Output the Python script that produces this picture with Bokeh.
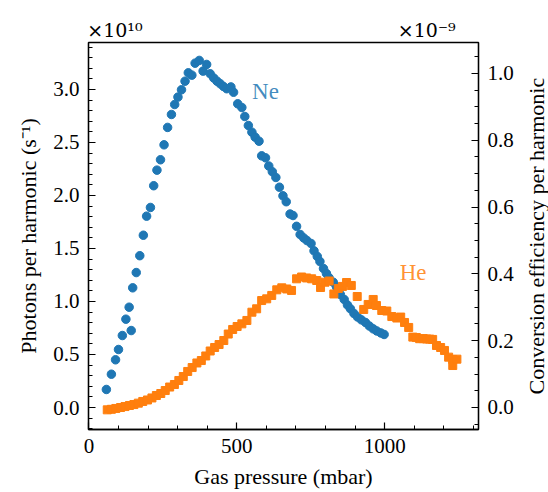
import math
from bokeh.plotting import figure
from bokeh.models import Range1d, LinearAxis, FixedTicker, Label, PrintfTickFormatter
from bokeh.embed import file_html
from bokeh.resources import INLINE

# Ne: gas pressure (mbar) vs photons per harmonic (x1e10 s^-1)
ne_p = [59, 76, 90, 100, 113, 125, 136, 143, 148, 160, 172, 184, 195, 208, 219, 230, 242, 254, 266, 279,
        290, 301, 313, 325, 336, 348, 359, 373, 386, 398, 410, 422, 433, 444, 455, 466, 480, 489, 503, 517,
        527, 539, 551, 562, 575, 584, 597, 608, 620, 632, 644, 656, 667, 680, 690, 702, 714, 726, 737, 751,
        761, 772, 781, 793, 803, 812, 826, 837, 850, 863, 874, 884, 896, 908, 921, 935, 948, 961, 973, 987, 998]
ne_y = [0.170, 0.314, 0.450, 0.547, 0.679, 0.833, 0.946, 0.726, 1.129, 1.273, 1.432, 1.625, 1.805, 1.887, 2.092,
        2.239, 2.337, 2.478, 2.642, 2.764, 2.858, 2.928, 2.997, 3.078, 3.157, 3.135, 3.248, 3.274, 3.173, 3.236,
        3.148, 3.108, 3.078, 3.054, 3.028, 3.007, 3.024, 2.974, 2.865, 2.830, 2.745, 2.660, 2.597, 2.550, 2.512,
        2.374, 2.355, 2.278, 2.224, 2.170, 2.078, 1.997, 1.941, 1.825, 1.811, 1.709, 1.632, 1.600, 1.575, 1.547,
        1.478, 1.425, 1.377, 1.311, 1.264, 1.223, 1.182, 1.137, 1.066, 1.019, 0.967, 0.931, 0.887, 0.854, 0.827,
        0.802, 0.769, 0.742, 0.722, 0.703, 0.689]

# He
he_p = [62, 76, 91, 107, 122, 137, 152, 167, 182, 198, 213, 228, 243, 258, 273, 289, 304, 319, 334, 349,
        365, 380, 395, 410, 425, 440, 456, 471, 486, 501, 517, 534, 551, 567, 584, 601, 618, 635, 652, 669,
        685, 702, 719, 736, 753, 770, 783, 798, 812, 828, 843, 857, 871, 887, 907, 929, 944, 961, 972, 990,
        1007, 1024, 1041, 1054, 1067, 1081, 1095, 1107, 1118, 1130, 1142, 1152, 1162, 1175, 1189, 1202, 1216,
        1230, 1230, 1244]
he_y = [-0.022, -0.017, -0.009, 0.000, 0.009, 0.019, 0.028, 0.041, 0.057, 0.071, 0.090, 0.113, 0.132, 0.160,
        0.193, 0.217, 0.255, 0.292, 0.340, 0.377, 0.420, 0.443, 0.486, 0.533, 0.566, 0.594, 0.632, 0.693, 0.736,
        0.764, 0.789, 0.821, 0.899, 0.931, 1.009, 1.025, 1.057, 1.110, 1.129, 1.118, 1.104, 1.214, 1.231, 1.222,
        1.214, 1.198, 1.132, 1.182, 1.193, 1.071, 1.123, 1.142, 1.179, 1.151, 1.047, 0.925, 0.972, 1.019, 0.962,
        0.915, 0.910, 0.858, 0.844, 0.853, 0.802, 0.755, 0.664, 0.660, 0.649, 0.650, 0.646, 0.645, 0.642, 0.585,
        0.566, 0.538, 0.475, 0.453, 0.396, 0.456]

x_ticks = [0, 500, 1000]
x_minor = [100, 200, 300, 400, 600, 700, 800, 900, 1100, 1200, 1300]
y_ticks = [0.0, 0.5, 1.0, 1.5, 2.0, 2.5, 3.0]
eff_ticks = [0.0, 0.2, 0.4, 0.6, 0.8, 1.0]
offset_texts = {88: "\u00d710\u00b9\u2070", 1142: "\u00d710\u207b\u2079"}
right_title = "Conversion efficiency per harmonic"

BLUE = "#1f77b4"
ORANGE = "#ff7f0e"
FONT = "Liberation Serif"

p = figure(frame_width=390, frame_height=387, output_backend="svg", toolbar_location=None,
           x_range=Range1d(-1.4, 1317), y_range=Range1d(-0.2075, 3.443),
           min_border_left=88, min_border_right=70, min_border_top=42, min_border_bottom=63)
p.extra_y_ranges = {"eff": Range1d(-0.0659, 1.0928)}
p.xgrid.visible = False
p.ygrid.visible = False
p.outline_line_color = "black"
p.outline_line_width = 1.3
p.background_fill_color = "white"
p.border_fill_color = "white"

p.scatter(ne_p, ne_y, marker="circle", size=8.5, fill_color=BLUE, line_color=BLUE)
p.scatter(he_p, he_y, marker="square", size=8, fill_color=ORANGE, line_color=ORANGE)

right = LinearAxis(y_range_name="eff")
p.add_layout(right, "right")

for ax in [p.xaxis[0], p.yaxis[0], right]:
    ax.major_tick_in = 7
    ax.major_tick_out = 0
    ax.minor_tick_in = 4
    ax.minor_tick_out = 0
    ax.major_tick_line_color = "black"
    ax.minor_tick_line_color = "black"
    ax.major_tick_line_width = 1.2
    ax.minor_tick_line_width = 1.0
    ax.axis_line_color = "black"
    ax.axis_line_width = 1.3
    ax.major_label_text_font = FONT
    ax.major_label_text_font_size = "21px"
    ax.major_label_text_color = "black"
    ax.axis_label_text_font = FONT
    ax.axis_label_text_font_size = "22px"
    ax.axis_label_text_font_style = "normal"
    ax.axis_label_text_color = "black"
    ax.major_label_standoff = 9

p.xaxis[0].axis_label_standoff = 8
p.yaxis[0].axis_label_standoff = 9

p.xaxis[0].ticker = FixedTicker(ticks=x_ticks, minor_ticks=x_minor)
p.yaxis[0].ticker = FixedTicker(ticks=y_ticks, minor_ticks=[i / 10 for i in range(-2, 35)])
p.yaxis[0].formatter = PrintfTickFormatter(format="%.1f")
right.ticker = FixedTicker(ticks=eff_ticks, minor_ticks=[i / 20 for i in range(-1, 22)])
right.formatter = PrintfTickFormatter(format="%.1f")

p.xaxis[0].axis_label = "Gas pressure (mbar)"
p.yaxis[0].axis_label = "Photons per harmonic (s\u207b\u00b9)"

# right-hand title, read bottom-to-top: carried as the one label of an unlined extra axis,
# whose tick sits at the lower end of the text so that the text is centred on the frame
title_start = 0.0389
rlab = LinearAxis(y_range_name="eff", ticker=FixedTicker(ticks=[title_start]),
                  major_label_overrides={title_start: right_title})
rlab.axis_line_color = None
rlab.major_tick_line_color = None
rlab.minor_tick_line_color = None
rlab.major_tick_out = 0
rlab.major_tick_in = 0
rlab.major_label_text_font = FONT
rlab.major_label_text_font_size = "22px"
rlab.major_label_text_color = "black"
rlab.major_label_orientation = math.pi / 2
rlab.major_label_standoff = 20
p.add_layout(rlab, "right")

# offset (scale) texts on an unlined top axis
top = LinearAxis(ticker=FixedTicker(ticks=list(offset_texts.keys())),
                 major_label_overrides=offset_texts)
top.axis_line_color = None
top.major_tick_line_color = None
top.minor_tick_line_color = None
top.major_tick_out = 0
top.major_tick_in = 0
top.major_label_text_font = "DejaVu Serif"
top.major_label_text_font_size = "19px"
top.major_label_text_color = "black"
top.major_label_standoff = 2
p.add_layout(top, "above")

# series labels
p.add_layout(Label(x=597, y=2.98, text="Ne", text_font=FONT, text_font_size="23px",
                   text_color=BLUE, text_alpha=0.85, text_align="center", text_baseline="middle"))
p.add_layout(Label(x=1096, y=1.27, text="He", text_font=FONT, text_font_size="23px",
                   text_color=ORANGE, text_alpha=0.85, text_align="center", text_baseline="middle"))

open("out.html", "w").write(file_html(p, INLINE))
